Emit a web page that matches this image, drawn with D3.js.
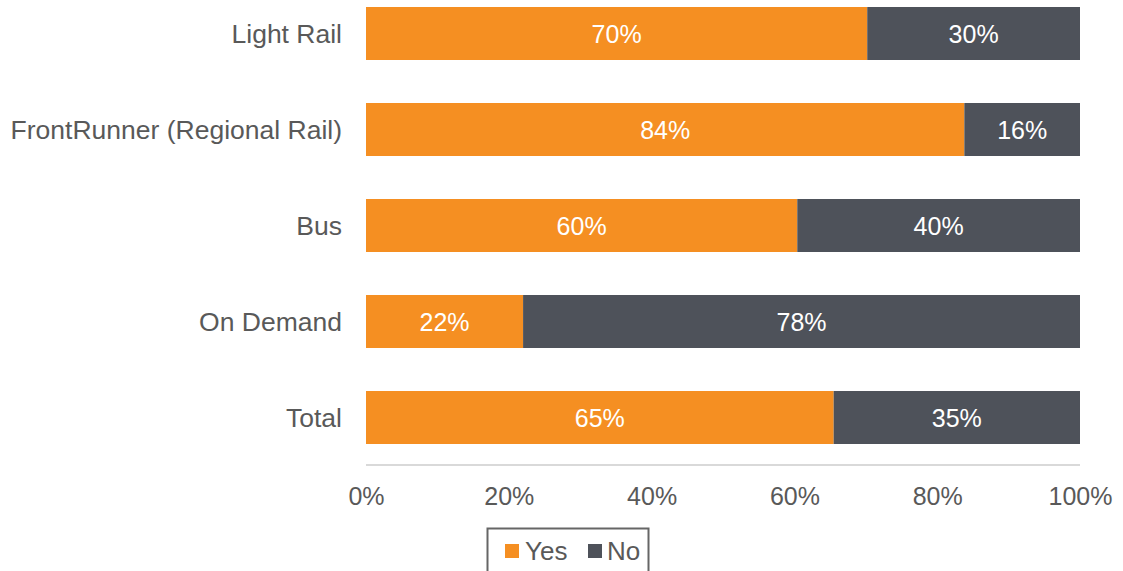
<!DOCTYPE html>
<html><head><meta charset="utf-8">
<script src="https://cdn.jsdelivr.net/npm/d3@7"></script>
<style>body{margin:0;background:#fff}svg{display:block}text{font-family:"Liberation Sans",Arial,sans-serif}</style>
</head><body><svg id="c" width="1123" height="571"></svg>
<script>
const categories = ["Light Rail","FrontRunner (Regional Rail)","Bus","On Demand","Total"];
const yesValues = [70.2, 83.8, 60.4, 22.0, 65.5];
const noValues = [29.8, 16.2, 39.6, 78.0, 34.5];
const yesLabels = ["70%","84%","60%","22%","65%"];
const noLabels = ["30%","16%","40%","78%","35%"];
const tickValues = [0,20,40,60,80,100];
const seriesNames = ["Yes","No"];
const colors = {Yes:"#F58F22", No:"#4E525A"};

const svg = d3.select("#c");
const x = d3.scaleLinear().domain([0,100]).range([366,1080]);
const y = d3.scaleBand().domain(categories).range([-14.5,465.5]).paddingInner(0.448).paddingOuter(0.224);

const rows = categories.map((c,i)=>({c, yes:yesValues[i], no:noValues[i], yl:yesLabels[i], nl:noLabels[i]}));

// axis line
svg.append("line").attr("x1",x(0)).attr("x2",x(100)).attr("y1",465).attr("y2",465)
  .attr("stroke","#d9d9d9").attr("stroke-width",2);

const g = svg.selectAll("g.row").data(rows).join("g").attr("class","row");
g.append("rect").attr("x",d=>x(0)).attr("y",d=>y(d.c)).attr("width",d=>x(d.yes)-x(0)).attr("height",y.bandwidth()).attr("fill",colors.Yes);
g.append("rect").attr("x",d=>x(d.yes)).attr("y",d=>y(d.c)).attr("width",d=>x(d.yes+d.no)-x(d.yes)).attr("height",y.bandwidth()).attr("fill",colors.No);
g.append("text").attr("x",d=>(x(0)+x(d.yes))/2).attr("y",d=>y(d.c)+y.bandwidth()/2).attr("dy","0.36em")
  .attr("text-anchor","middle").attr("fill","#fff").attr("font-size",25).text(d=>d.yl);
g.append("text").attr("x",d=>(x(d.yes)+x(d.yes+d.no))/2).attr("y",d=>y(d.c)+y.bandwidth()/2).attr("dy","0.36em")
  .attr("text-anchor","middle").attr("fill","#fff").attr("font-size",25).text(d=>d.nl);
g.append("text").attr("x",342).attr("y",d=>y(d.c)+y.bandwidth()/2).attr("dy","0.36em")
  .attr("text-anchor","end").attr("fill","#595959").attr("font-size",26.5).text(d=>d.c);

// x tick labels
const xAxis = d3.axisBottom(x).tickValues(tickValues).tickFormat(d=>d+"%").tickSize(0).tickPadding(0);
const ax = svg.append("g").attr("transform","translate(0,505)").call(xAxis);
ax.select(".domain").remove();
ax.selectAll("text").attr("font-size",25).attr("fill","#595959").attr("font-family","Liberation Sans, Arial, sans-serif").attr("y",0).attr("dy","0");

// legend
const lg = svg.append("g");
lg.append("rect").attr("x",487.5).attr("y",528.5).attr("width",161).attr("height",60).attr("fill","none").attr("stroke","#666").attr("stroke-width",2);
const items = [{n:"Yes",sx:505,tx:525},{n:"No",sx:588,tx:607}];
items.forEach(it=>{
  lg.append("rect").attr("x",it.sx).attr("y",544).attr("width",14).attr("height",14).attr("fill",colors[it.n]);
  lg.append("text").attr("x",it.tx).attr("y",551).attr("dy","0.36em").attr("font-size",26).attr("fill","#595959").text(it.n);
});
</script></body></html>
